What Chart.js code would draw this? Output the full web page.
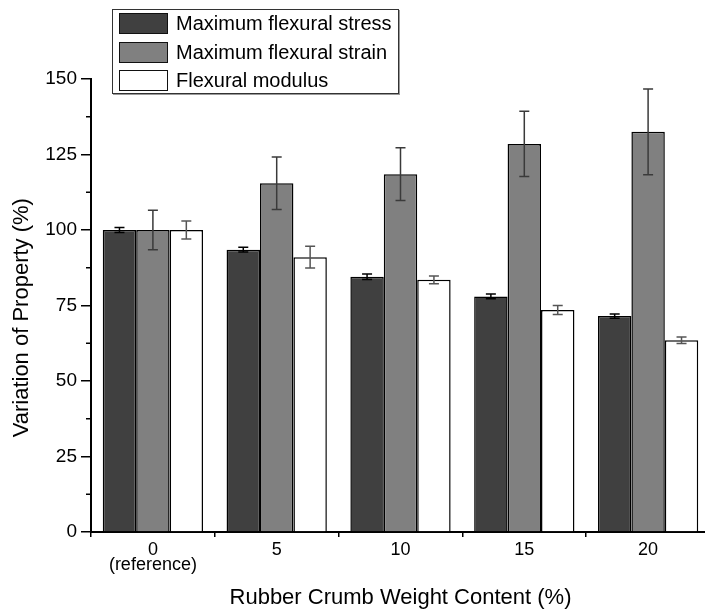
<!DOCTYPE html>
<html lang="en">
<head>
  <meta charset="UTF-8">
  <title>Flexural properties vs rubber crumb content</title>
  <script src="https://cdn.jsdelivr.net/npm/chart.js"></script>
  <style>
    html, body { margin: 0; padding: 0; overflow: hidden; background: #fff; }
    #wrap { position: relative; width: 712px; height: 613px; }
    #legend { position: absolute; left: 112px; top: 9px; width: 285px; height: 83px;
      border: 1px solid #333; box-shadow: 1px 1px 0 #999; background: #fff;
      font-family: "Liberation Sans", Arial, sans-serif; font-size: 20px; color: #000; }
    #legend .item { position: absolute; left: 6px; height: 20px; line-height: 20px; white-space: nowrap; }
    #legend .sw { display: inline-block; width: 47px; height: 19px; border: 1px solid #111;
      vertical-align: top; margin-right: 8px; }
  </style>
</head>
<body>
<div id="wrap">
  <canvas id="chart"></canvas>
  <div id="legend"></div>
</div>
<script>
  // x categories (rubber crumb weight content, %)
  const categories = [['0', '(reference)'], '5', '10', '15', '20'];
  const seriesNames = ['Maximum flexural stress', 'Maximum flexural strain', 'Flexural modulus'];
  // values in % of the reference
  const stress = [100, 93.5, 84.5, 78, 71.5];
  const strain = [100, 115.5, 118.5, 128.5, 132.5];
  const modulus = [100, 91, 83.5, 73.5, 63.5];
  // error bar half-lengths
  const stressErr = [0.8, 0.8, 0.9, 0.8, 0.7];
  const strainErr = [6.5, 8.7, 8.7, 10.8, 14.2];
  const modulusErr = [3, 3.6, 1.3, 1.5, 1.1];
  const yTicks = [0, 25, 50, 75, 100, 125, 150];

  const fills = ['#404040', '#808080', '#ffffff'];
  const errColors = ['#000000', '#3a3a3a', '#555555'];
  const FONT = '"Liberation Sans", Arial, sans-serif';

  const errorBars = {
    id: 'errorBars',
    afterDatasetsDraw(chart) {
      const ctx = chart.ctx, y = chart.scales.y;
      ctx.save();
      chart.data.datasets.forEach((ds, di) => {
        chart.getDatasetMeta(di).data.forEach((bar, i) => {
          const top = y.getPixelForValue(ds.data[i] + ds.err[i]);
          const bot = y.getPixelForValue(ds.data[i] - ds.err[i]);
          ctx.strokeStyle = errColors[di];
          ctx.lineWidth = 1.5;
          ctx.beginPath();
          ctx.moveTo(bar.x, top); ctx.lineTo(bar.x, bot);
          ctx.moveTo(bar.x - 5, top); ctx.lineTo(bar.x + 5, top);
          ctx.moveTo(bar.x - 5, bot); ctx.lineTo(bar.x + 5, bot);
          ctx.stroke();
        });
      });
      ctx.restore();
    }
  };

  // minor ticks halfway between the labelled y ticks
  const minorTicks = {
    id: 'minorTicks',
    afterDraw(chart) {
      const ctx = chart.ctx, y = chart.scales.y, x0 = chart.chartArea.left;
      ctx.save();
      ctx.strokeStyle = '#000';
      ctx.lineWidth = 1.5;
      for (let k = 0; k < yTicks.length - 1; k++) {
        const py = y.getPixelForValue((yTicks[k] + yTicks[k + 1]) / 2);
        ctx.beginPath(); ctx.moveTo(x0 - 5, py); ctx.lineTo(x0, py); ctx.stroke();
      }
      ctx.restore();
    }
  };

  const makeSet = (i, data, err) => ({
    label: seriesNames[i], data: data, err: err,
    backgroundColor: fills[i], borderColor: '#000', borderWidth: 1.5,
    categoryPercentage: 0.81, barPercentage: 1.0
  });

  const chart = new Chart(document.getElementById('chart'), {
    type: 'bar',
    data: {
      labels: categories,
      datasets: [makeSet(0, stress, stressErr), makeSet(1, strain, strainErr), makeSet(2, modulus, modulusErr)]
    },
    options: {
      responsive: true, maintainAspectRatio: false, animation: false,
      layout: { padding: { top: 79, left: 0, right: 2, bottom: 0 } },
      plugins: { legend: { display: false }, tooltip: { enabled: false } },
      scales: {
        x: {
          afterFit: s => { s.height = 81; },
          grid: { drawOnChartArea: false, offset: true, tickLength: 5, color: '#000', lineWidth: 1.5 },
          border: { color: '#000', width: 2 },
          ticks: { color: '#000', padding: 5, font: { family: FONT, size: 18, lineHeight: 0.85 } },
          title: { display: true, text: 'Rubber Crumb Weight Content (%)', color: '#000',
            font: { family: FONT, size: 22 }, padding: { top: 0, bottom: 2 } }
        },
        y: {
          min: 0, max: 150,
          afterFit: s => { s.width = 91; },
          afterBuildTicks: s => { s.ticks = yTicks.map(v => ({ value: v })); },
          grid: { drawOnChartArea: false, tickLength: 10, color: '#000', lineWidth: 1.5 },
          border: { color: '#000', width: 2 },
          ticks: { color: '#000', padding: 4, font: { family: FONT, size: 19 } },
          // trailing spaces nudge the title a little below the axis middle, as in the original
          title: { display: true, text: 'Variation of Property (%)    ', color: '#000',
            font: { family: FONT, size: 22 }, padding: { top: 9, bottom: 0 } }
        }
      }
    },
    plugins: [errorBars, minorTicks]
  });

  // legend drawn as html over the plot
  const legend = document.getElementById('legend');
  chart.data.datasets.forEach((ds, i) => {
    const item = document.createElement('div');
    item.className = 'item';
    item.style.top = (3 + i * 28.5) + 'px';
    item.innerHTML = '<span class="sw" style="background:' + ds.backgroundColor + '"></span>' + ds.label;
    legend.appendChild(item);
  });
</script>
</body>
</html>
